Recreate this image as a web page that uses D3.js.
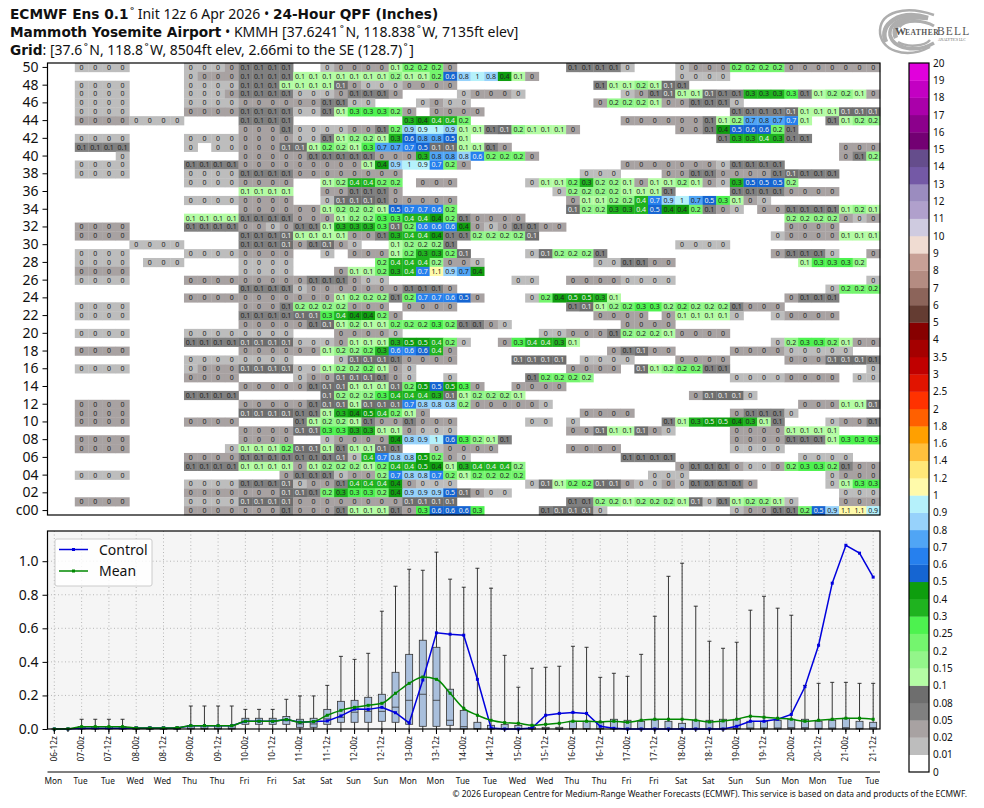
<!DOCTYPE html>
<html>
<head>
<meta charset="utf-8">
<style>
  html, body { margin: 0; padding: 0; background: #fff; }
  svg { display: block; }
  text { font-family: "Noto Sans", sans-serif; fill: #111; }
  .bold { font-family: "DejaVu Sans", sans-serif; font-weight: bold; font-size: 13.7px; }
</style>
<script src="https://cdn.jsdelivr.net/npm/d3@7"></script>
</head>
<body>
<div id="chart"></div>
<script>
// values in hundredths of an inch, each run is [first column, v, v, v, ...]
var r50 = [[2,1,1,1,1],[10,1,1,1,3,6,6,6,6],[20,1,3,3,3,3,12,22,22,22,3],[38,6,6,6,6,1],[46,1,3,3,3,22,22,22,22,3,3,3,3,3,3,3]];
var r49 = [[10,1,3,3,3,6,6,6,6,12,12,12,12,12,12,12,17,12,12,22,57,83,97,83,42,12,3],[46,1,1,1,1]];
var r48 = [[2,1,1,1,1],[10,1,1,1,1,6,6,6,12,12,12,12,9,3,1,1,1,3,3,3,3],[40,6,12,12,17,12,9,6]];
var r47 = [[2,1,1,1,1],[10,1,1,1,3,6,6,6,6,1,1,1,3,6,6,6,3],[30,1,3,3,3,1],[42,1,3,6,9,12,12,9,6,6,33,33,33,27,6,12,17,17,12,3]];
var r46 = [[2,1,1,1,1],[10,1,1,1,1,3,3,3,3,3,3,6,6,1,1],[27,1,3,1,1],[40,3,17,17,17,12,3,3,6,6,6,1]];
var r45 = [[2,1,1,1,1],[10,3,3,3,3,6,6,6,6,1,1,6,12,27,27,27,22,3],[28,3,3,3,3],[50,6,6,6,6,9,12,12,12,9,9,9]];
var r44 = [[2,3,3,3,3,1,1,1,1],[14,6,6,6,6],[26,33,42,38,38,22],[42,3,3,3,3,3,3,6,12,17,73,77,73,67,12],[57,6,12,17,17]];
var r43 = [[14,3,3,3,6,1,1,1,1,3,3,6,22,87,93,97,87,12,12,6,9,17,12,12,12,3],[46,3,3,6,42,54,57,57,22,6]];
var r42 = [[2,1,1,1,1],[10,1,1,1,1,3,3,3,3,1,1,6,12,17,17,12,33,57,77,77,54,12],[49,6,33,33,38,33,6,6]];
var r41 = [[2,6,6,6,6],[10,1],[12,1,1,3,3,3,9,9,12,22,17,12,27,73,73,67,54,9,9,12,12,6,3],[58,3,3,3]];
var r40 = [[5,1],[14,3,3,3,3,3,6,6,6,6,6,3,3,3,33,77,77,83,63,22,22,22,3],[58,3,6,17]];
var r39 = [[2,1,1,1,1],[10,6,6,6,6,3,3,3,3,3,3,3,3,3,12,42,87,97,93,67,22,3],[42,3,3,3,3,3,3,3,1,6,6,6,6]];
var r38 = [[2,1,1,1,1],[10,1,1,1,1,6,6,6,6,3,3,3,3,3,3,3,3],[39,1,1,1],[45,3,3,6,6,3,3,3,3,6,9,6,6,6]];
var r37 = [[10,1,1,1,1,3,3,3,3],[20,12,17,38,38,22,22],[27,3,3,3],[35,1,12,12,22,33,17,17,12,3,12,12,17,12,3,1,33,54,54,54,17]];
var r36 = [[14,12,12,12,12],[20,3,3,6,6,6,3],[37,1,17,17,17,17,12,12,12,6],[50,6,6,6,6,3,3,3,3]];
var r35 = [[10,1,1,1,1,3,3,3,3],[20,1,9,9,9,6,3,3,3,3,3],[38,3,12,12,17,17,38,67,87,97,73,54,27,12,3,1]];
var r34 = [[14,3,3,3,3,3,3,12,17,17,17,12,54,67,67,63,22],[38,9,17,17,33,33,38,54,42,42,22,6,3,1],[52,3,3,6,6,6,6,12,17,12]];
var r33 = [[10,12,12,12,12,6,6,6,6,3,3,3,12,17,17,27,27,38,38,42,22,6,3,3,3,3],[54,17,17,17,17,3,1,3]];
var r32 = [[2,3,3,3,3],[10,6,6,6,6,3,3,1,3,6,6,12,33,33,33,27,9,22,63,63,63,42,3,1,3,6,6,3,3],[54,3,3,3,3]];
var r31 = [[2,3,3,3,3],[14,6,6,6,9,12,12,12,12,3,3,6,33,38,38,42,6,6,17,17,17,17,9],[53,1,3,3,3,3,12,12,12]];
var r30 = [[6,1,1,1,1],[14,6,6,6,9,3,6,9,3,1],[25,12,17,17,17,6],[46,1,1,1,1]];
var r29 = [[2,1,1,1,1],[10,1,1,1,1,3,3,3,3],[20,1],[22,3,3,3,12,22,33,33,22,9],[35,1,9,17,17,17,6],[53,3,6,6,6,1],[60,3]];
var r28 = [[2,1,1,1,1],[7,1,1,1],[14,1,1,1,1],[24,22,38,38,38,17,3,3,1],[40,1,1,6,6,3,3],[55,12,27,27,27,17]];
var r27 = [[2,3,3,3,3],[14,1,1,1,1],[21,3,12,12,22,33,38,67,110,87,73,42]];
var r26 = [[2,1,1,1,1],[10,3,3,3,3,3,3,3,3,3,6,6,6,3,1,1],[34,1,1],[38,3,3,3,3,1,1,1,1],[60,1]];
var r25 = [[14,6,6,6,6,1,3,3,3,3,3,3,3,6,6,6,3],[57,1,22,22,22]];
var r24 = [[10,3,3,3,3,3,3,3,3,3,3,3,12,17,17,17,6,22,67,67,63,54,3],[35,1,22,42,47,47,33,12],[54,3,6,6,6]];
var r23 = [[2,1,1,1,1],[14,3,3,3,6,17,17,17,17,3,3,3],[26,3,3,3,3],[38,6,9,12,17,22,27,27,17,22,17,17,17,6,3,3,3]];
var r22 = [[2,1,1,1,1],[14,6,6,6,6,9,9,27,38,42,42,22,3],[40,3,3,3,3],[45,3,12,12,12,12,1],[53,1,3,3,3,3]];
var r21 = [[14,3,3,3,3,3,6,9,12,17,12,12,22,22,22,27,22,6,6,3,1],[42,3,3,3,3]];
var r20 = [[2,1,1,1,1],[10,1,1,1,1,1,1,1,1],[21,3,3,3,3,1],[36,1,1,3,3,3,6,17,17,17,12,3,3,3,3]];
var r19 = [[10,6,6,6,6,9,9,9,9,1,1,1,3,12,12,12,33,47,47,38,22,1],[33,3,27,38,38,33,12],[53,1,17,27,27,22,12,3,3]];
var r18 = [[2,3,3,3,3],[14,3,3,3,3,3,3,12,17,17,22,33,63,63,57,38,3],[41,3,6,9,3,3],[50,3,3,3,3,1,1,1,1,1]];
var r17 = [[10,1,1,1,1,1,1,1,1],[21,1,9,9,9,6,3,3,3,3],[34,9,9,9,9],[39,1,1,1,1],[46,3,3,3,3],[54,3,3,3,9,9,9,6]];
var r16 = [[2,1,1,1,1],[10,1,3,3,3,9,9,9,9,1,1,12,17,17,22,12,3,1],[38,3,3,3,3],[43,9,12,17,22,22,6,6],[60,1]];
var r15 = [[10,3,3,3,3],[18,1,3,3,9,9,9,6,3,1],[29,1],[35,6,22,22,22,17],[50,1,1,1,1,3,3,3,3],[59,1,1]];
var r14 = [[14,3,3,3,3,3,6,9,9,12,12,12,9,22,47,54,47,27,3],[34,3,3,3,3]];
var r13 = [[10,6,6,6,6],[20,9,17,17,17,27,38,38,38,33,9,12,17,17,17,12],[47,3,9,9,9,1]];
var r12 = [[2,3,3,3,3],[14,3,3,3,3,3,6,9,9,12,9,9,9,67,83,83,83,17,3,3,3,3,3,1],[55,3,3,3,12,12,9]];
var r11 = [[2,3,3,3,3],[14,9,9,9,9,6,6,12,33,42,47,38,22,12,3],[39,3,3,3,3],[50,3,6,6,6,1]];
var r10 = [[2,3,3,3,3],[10,3,3,3,3],[18,6,12,17,17,12,6,3,3,6,3,3,3],[35,1,1],[38,1],[45,6,12,33,47,47,42,33,12,6],[57,1,3,3,6]];
var r09 = [[14,3,3,3,3,9,9,27,27,33,33,12,12,3,1,1,1],[38,3,3,9,12,12,9,3,1],[50,3,3,3,3,12,12,12,12]];
var r08 = [[2,3,3,3,3],[14,3,3,3,3],[20,1,3,3,3,3,42,83,87,97,57,27,17,12,6],[50,3,3,3,3,6,6,6,12,27,27,27]];
var r07 = [[2,3,3,3,3],[13,1,12,12,12,22,9,9,12,6,12,12,9,6],[28,1,3,3,3,3],[38,3,3,3,3],[50,1,1,1,1]];
var r06 = [[10,3,3,3,3,6,6,6,6,6,6,6,9,1,38,67,83,83,47,22,3,1],[42,6,6,6,6],[55,1,1,1,1]];
var r05 = [[10,6,6,6,6,12,12,12,12,3,12,17,17,17,12,22,38,38,47,42,12,33,38,38,38,17],[46,3,6,6,6,3,1,1,3,22,27,27,22,6,3,3]];
var r04 = [[2,1,1,1,1],[17,3,6,6,6,1,3,3,17,67,83,83,67,22,12,22,22,22,22],[44,1,1,1],[57,1,3,3,3]];
var r03 = [[10,1,1,1,1,6,6,6,9,1,3,3,6,38,38,38,42,3,1,1,1],[35,1,9,12,22,22,9,9,3,1,1,3,1,6,6,6,6,3],[57,1,12,27,27]];
var r02 = [[10,3,3,3,3,3,3,3,9,9,6,22,33,27,27,22,42,87,87,87,54,9,3,1,1],[58,1,1,1]];
var r01 = [[2,3,3,3,3],[10,1,1,1,1,9,9,9,9,3,3,3,3,3,3,3,3,9,9,9,9],[38,6,6,17,17,12,17,17,17,12,9,1,6,12,17,17,12,1],[58,3,3,3]];
var r00 = [[10,3,3,3,3,3,3,3,6,3,3,3,6,12,12,12,6,3,27,57,57,57,27],[36,6,9,9,9,1],[50,1,3,3,6,6,22,54,87,110,110,93]];

var memberRows = [r50,r49,r48,r47,r46,r45,r44,r43,r42,r41,r40,r39,r38,r37,r36,r35,r34,r33,r32,r31,r30,r29,r28,r27,r26,r25,r24,r23,r22,r21,r20,r19,r18,r17,r16,r15,r14,r13,r12,r11,r10,r09,r08,r07,r06,r05,r04,r03,r02,r01,r00];
var rowLabels = ['50','48','46','44','42','40','38','36','34','32','30','28','26','24','22','20','18','16','14','12','10','08','06','04','02','c00'];

var stepLabels = ['06-12z','07-00z','07-12z','08-00z','08-12z','09-00z','09-12z','10-00z','10-12z','11-00z','11-12z','12-00z','12-12z','13-00z','13-12z','14-00z','14-12z','15-00z','15-12z','16-00z','16-12z','17-00z','17-12z','18-00z','18-12z','19-00z','19-12z','20-00z','20-12z','21-00z','21-12z'];
var dayLabels = ['Mon','Tue','Tue','Wed','Wed','Thu','Thu','Fri','Fri','Sat','Sat','Sun','Sun','Mon','Mon','Tue','Tue','Wed','Wed','Thu','Thu','Fri','Fri','Sat','Sat','Sun','Sun','Mon','Mon','Tue','Tue'];

var control = [0,0,.005,.005,.005,.005,.006,.006,.006,.006,.02,.02,.02,.02,.046,.046,.046,.056,.04,.044,.048,.078,.119,.117,.129,.097,.036,.292,.573,.565,.559,.296,.006,0,0,.006,.082,.093,.099,.093,.016,.004,0,0,0,0,0,0,0,0,.016,.046,.046,.058,.087,.252,.499,.869,1.095,1.048,.905];
var mean = [0,.001,.014,.014,.014,.014,.006,.006,.006,.008,.02,.02,.02,.02,.046,.046,.046,.056,.04,.044,.082,.111,.129,.141,.153,.213,.272,.31,.296,.213,.123,.082,.052,.038,.034,.022,.028,.034,.046,.046,.042,.046,.04,.052,.058,.058,.058,.052,.042,.048,.058,.076,.07,.064,.058,.046,.052,.058,.064,.064,.058];
var whiskerHigh = [0,.004,.058,.058,.058,.058,.012,.012,.012,.012,.137,.137,.137,.137,.117,.117,.117,.177,.197,.197,.26,.433,.415,.451,.702,.851,.952,.946,1.054,.893,.845,.958,.839,.439,.249,.362,.368,.374,.493,.487,.308,.332,.314,.445,.672,.91,.988,.732,.523,.481,.517,.708,.791,.72,.678,.26,.272,.278,.278,.272,.272];
var boxQ3 = [0,0,.014,.014,.014,.014,.004,.004,.004,.004,.02,.02,.02,.02,.064,.064,.064,.074,.058,.064,.117,.165,.171,.189,.207,.338,.445,.529,.487,.237,.111,.04,.022,.028,.022,.01,.01,.01,.046,.046,.04,.058,.052,.046,.054,.046,.034,.052,.052,.058,.058,.046,.046,.052,.058,.058,.046,.052,.064,.046,.04];
var boxMedian = [0,0,.004,.004,.004,.004,0,0,0,0,.004,.004,.004,.004,.046,.046,.046,.05,.03,.03,.06,.07,.1,.105,.105,.13,.171,.207,.171,.052,.014,.002,0,0,0,0,0,0,.002,.002,.002,.004,.004,.004,.004,.004,.002,.004,.004,.004,.004,.006,.006,.006,.008,.008,.004,.006,.008,.004,.008];
var boxQ1 = [0,0,0,0,0,0,0,0,0,0,0,0,0,0,.028,.028,.028,.028,.01,.01,.028,.04,.04,.04,.046,.04,.028,.016,.016,.022,0,0,0,0,0,0,0,0,0,0,0,0,0,0,0,0,0,0,0,0,0,0,0,0,0,0,0,0,0,0,0];

var cbarTicks = ['0','0.01','0.02','0.05','0.08','0.1','0.15','0.2','0.25','0.3','0.4','0.5','0.6','0.7','0.8','0.9','1','1.2','1.4','1.6','1.8','2','2.5','3','3.5','4','5','6','7','8','9','10','11','12','13','14','15','16','17','18','19','20'];
var cbarColors = ['#ffffff','#bdbdbd','#a8a2a2','#808080','#6e6e6e','#b4fca4','#93f68a','#74f56e','#4df24f','#1fb31f','#0e9e0e','#1565d2','#2680ee','#50a5f5','#97d2fb','#b5f1fb','#fffaaa','#ffe878','#ffc03c','#ffa000','#ff6000','#ff3200','#e11400','#c00000','#a50000','#870000','#643c32','#8c645a','#b48c82','#c8a096','#f0dcd2','#cfcbe0','#b0a0cc','#9b8cbf','#7459a6','#654d8c','#730073','#8c008c','#aa00aa','#c300c3','#e100dc'];

var width = 984, height = 808;
var svg = d3.select('#chart').append('svg').attr('width', width).attr('height', height);

// titles, bold parts are DejaVu, the rest Noto like the original mathtext mix
var titleLines = [
  [['ECMWF Ens 0.1', true], ['\u200a˚ Init 12z 6 Apr 2026 • ', false], ['24-Hour QPF (Inches)', true]],
  [['Mammoth Yosemite Airport', true], [' • KMMH [37.6241\u200a˚\u200aN, 118.838\u200a˚\u200aW, 7135ft elev]', false]],
  [['Grid', true], [': [37.6\u200a˚\u200aN, 118.8\u200a˚\u200aW, 8504ft elev, 2.66mi to the SE (128.7)\u200a˚\u200a]', false]]
];
titleLines.forEach(function(line, i) {
  var t = svg.append('text').attr('x', 10).attr('y', 19 + i * 18).style('font-size', '14px');
  line.forEach(function(part) {
    t.append('tspan').attr('class', part[1] ? 'bold' : null).text(part[0]);
  });
});

// logo
var logo = svg.append('g').attr('fill', 'none').attr('stroke', '#aeaeae').style('filter', 'blur(0.5px)');
logo.append('path').attr('stroke-width', 2.5).attr('d', 'M930,47 C905,60 879,50 880,30 C881,12 905,5 934,15');
logo.append('path').attr('stroke-width', 4.5).attr('d', 'M886,42 C878,24 900,9 928,18 C905,15 890,25 896,38');
logo.append('path').attr('stroke-width', 3.5).attr('d', 'M934,43 C915,54 893,48 890,35 C889,27 895,21 905,19');
logo.append('path').attr('stroke-width', 3).attr('d', 'M899,27 C905,19 924,20 934,26');
logo.append('path').attr('stroke-width', 2.5).attr('d', 'M898,42 C908,48 925,46 930,40');
var logoFont = '"Liberation Serif", serif';
var logoText = svg.append('g');
logoText.append('text').attr('x', 895).attr('y', 34.7).style('font-family', logoFont).style('font-size', '11px').style('font-weight', 'bold').style('fill', '#555').text('W');
logoText.append('text').attr('x', 905).attr('y', 34.7).style('font-family', logoFont).style('font-size', '7.5px').style('font-weight', 'bold').style('fill', '#555').style('letter-spacing', '0.5px').text('EATHER');
logoText.append('text').attr('x', 937).attr('y', 34.7).style('font-family', logoFont).style('font-size', '11.5px').style('fill', '#555').style('letter-spacing', '1.2px').text('BELL');
logoText.append('text').attr('x', 938).attr('y', 40.5).style('font-family', logoFont).style('font-size', '3.6px').style('fill', '#666').text('ANALYTICS LLC');

// heatmap of members against forecast step
var plotLeft = 47.5, plotRight = 880;
var columns = d3.range(61);
var x = d3.scaleBand().domain(columns).range([plotLeft, plotRight]);
var rowNames = d3.range(50, -1, -1);
var y = d3.scaleBand().domain(rowNames).range([63, 515]);
var color = d3.scaleThreshold()
  .domain(cbarTicks.slice(1, -1).map(Number))
  .range(cbarColors);

function cellLabel(v) {
  return String(+v.toFixed(1));
}
function cellText(v) {
  if ((v >= 0.08 && v < 0.1) || (v >= 0.35 && v < 0.4) || (v >= 0.45 && v < 0.7)) return '#f0f0f0';
  return '#222';
}

var cells = [];
memberRows.forEach(function(runs, i) {
  runs.forEach(function(run) {
    run.slice(1).forEach(function(h, j) {
      cells.push({ row: rowNames[i], col: run[0] + j, value: h / 100 });
    });
  });
});

svg.append('g').selectAll('rect').data(cells).enter().append('rect')
  .attr('x', function(d) { return x(d.col); })
  .attr('y', function(d) { return y(d.row); })
  .attr('width', x.bandwidth() + 0.3)
  .attr('height', y.bandwidth() + 0.3)
  .attr('fill', function(d) { return color(d.value); });

svg.append('g').selectAll('text').data(cells).enter().append('text')
  .attr('x', function(d) { return x(d.col) + x.bandwidth() / 2; })
  .attr('y', function(d) { return y(d.row) + y.bandwidth() / 2; })
  .attr('text-anchor', 'middle').attr('dy', '0.35em')
  .style('font-size', '7px')
  .style('fill', function(d) { return cellText(d.value); })
  .text(function(d) { return cellLabel(d.value); });

svg.append('rect').attr('x', plotLeft).attr('y', 63).attr('width', plotRight - plotLeft).attr('height', 452)
  .attr('fill', 'none').attr('stroke', '#000').attr('stroke-width', 1.2);

var rowAxis = d3.axisLeft(y)
  .tickValues(rowNames.filter(function(r) { return r % 2 === 0; }))
  .tickSize(5).tickPadding(4)
  .tickFormat(function(r, i) { return rowLabels[i]; });
var rowAxisG = svg.append('g').attr('transform', 'translate(' + plotLeft + ',0)').call(rowAxis);
rowAxisG.select('.domain').remove();
rowAxisG.selectAll('text').style('font-size', '14px').style('font-family', '"Noto Sans", sans-serif');

// lower panel, box plots with control and mean
var panelTop = 531, panelBottom = 729;
var yv = d3.scaleLinear().domain([0, 1.18]).range([panelBottom, panelTop]);
var center = function(c) { return x(c) + x.bandwidth() / 2; };

svg.append('rect').attr('x', plotLeft).attr('y', panelTop).attr('width', plotRight - plotLeft).attr('height', panelBottom - panelTop).attr('fill', '#f5f5f5');

var majorCols = columns.filter(function(c) { return c % 2 === 0; });
svg.append('g').selectAll('line').data(majorCols).enter().append('line')
  .attr('x1', center).attr('x2', center).attr('y1', panelTop).attr('y2', panelBottom)
  .attr('stroke', '#b0b0b0').attr('stroke-width', 0.9).attr('stroke-dasharray', '1,2.5');
svg.append('g').selectAll('line').data([0.2, 0.4, 0.6, 0.8, 1]).enter().append('line')
  .attr('x1', plotLeft).attr('x2', plotRight).attr('y1', yv).attr('y2', yv)
  .attr('stroke', '#b0b0b0').attr('stroke-width', 0.9).attr('stroke-dasharray', '1,2.5');

var boxes = svg.append('g').selectAll('g').data(columns).enter().append('g');
boxes.append('line')
  .attr('x1', center).attr('x2', center)
  .attr('y1', function(c) { return yv(whiskerHigh[c]); }).attr('y2', yv(0))
  .attr('stroke', '#222').attr('stroke-width', 0.9);
boxes.append('line')
  .attr('x1', function(c) { return center(c) - 2; }).attr('x2', function(c) { return center(c) + 2; })
  .attr('y1', function(c) { return yv(whiskerHigh[c]); }).attr('y2', function(c) { return yv(whiskerHigh[c]); })
  .attr('stroke', '#222').attr('stroke-width', 0.9);
boxes.append('rect')
  .attr('x', function(c) { return center(c) - 3.5; }).attr('width', 7)
  .attr('y', function(c) { return yv(boxQ3[c]); })
  .attr('height', function(c) { return yv(boxQ1[c]) - yv(boxQ3[c]); })
  .attr('fill', '#a9bfdc').attr('stroke', '#333').attr('stroke-width', 0.8);
boxes.append('line')
  .attr('x1', function(c) { return center(c) - 3.5; }).attr('x2', function(c) { return center(c) + 3.5; })
  .attr('y1', function(c) { return yv(boxMedian[c]); }).attr('y2', function(c) { return yv(boxMedian[c]); })
  .attr('stroke', '#333').attr('stroke-width', 0.8);

function drawSeries(values, stroke, curve) {
  var seriesLine = d3.line()
    .x(function(d, i) { return center(i); })
    .y(function(d) { return yv(d); })
    .curve(curve);
  var g = svg.append('g');
  g.append('path').attr('d', seriesLine(values)).attr('fill', 'none').attr('stroke', stroke).attr('stroke-width', 1.5);
  g.selectAll('rect').data(values).enter().append('rect')
    .attr('x', function(d, i) { return center(i) - 1.5; })
    .attr('y', function(d) { return yv(d) - 1.5; })
    .attr('width', 3).attr('height', 3).attr('fill', stroke);
}
drawSeries(control, '#0000dd', d3.curveLinear);
drawSeries(mean, '#008800', d3.curveMonotoneX);

svg.append('rect').attr('x', plotLeft).attr('y', panelTop).attr('width', plotRight - plotLeft).attr('height', panelBottom - panelTop)
  .attr('fill', 'none').attr('stroke', '#000').attr('stroke-width', 1.2);

var valueAxis = d3.axisLeft(yv).tickValues([0, 0.2, 0.4, 0.6, 0.8, 1]).tickSize(5).tickPadding(4).tickFormat(d3.format('.1f'));
var valueAxisG = svg.append('g').attr('transform', 'translate(' + plotLeft + ',0)').call(valueAxis);
valueAxisG.select('.domain').remove();
valueAxisG.selectAll('text').style('font-size', '14px').style('font-family', '"Noto Sans", sans-serif');

var stepAxis = d3.axisBottom(x).tickValues(columns).tickSize(3).tickFormat('');
var stepAxisG = svg.append('g').attr('transform', 'translate(0,' + panelBottom + ')').call(stepAxis);
stepAxisG.select('.domain').remove();
svg.append('g').selectAll('line').data(majorCols).enter().append('line')
  .attr('x1', center).attr('x2', center).attr('y1', panelBottom).attr('y2', panelBottom + 5)
  .attr('stroke', '#000');

svg.append('g').selectAll('text').data(stepLabels).enter().append('text')
  .attr('transform', function(d, i) { return 'translate(' + (center(majorCols[i]) - 0.5) + ',736) rotate(-90)'; })
  .attr('text-anchor', 'end').attr('dy', '0.35em')
  .style('font-size', '8.3px')
  .text(function(d) { return d; });

svg.append('line').attr('x1', plotLeft).attr('x2', plotRight).attr('y1', 772).attr('y2', 772).attr('stroke', '#000').attr('stroke-width', 1);
svg.append('g').selectAll('text').data(dayLabels).enter().append('text')
  .attr('x', function(d, i) { return center(majorCols[i]) - 1; })
  .attr('y', 784).attr('text-anchor', 'middle')
  .style('font-size', '8.3px')
  .text(function(d) { return d; });

svg.append('text').attr('x', 967).attr('y', 797).attr('text-anchor', 'end').style('font-size', '8.4px')
  .text('© 2026 European Centre for Medium-Range Weather Forecasts (ECMWF). This service is based on data and products of the ECMWF.');

// legend
var legendEntries = [['Control', '#0000dd', 549.5], ['Mean', '#008800', 571]];
var legend = svg.append('g');
legend.append('rect').attr('x', 55).attr('y', 539).attr('width', 97).attr('height', 47).attr('rx', 2)
  .attr('fill', '#fff').attr('fill-opacity', 0.85).attr('stroke', '#ccc');
legendEntries.forEach(function(e) {
  legend.append('line').attr('x1', 59).attr('x2', 88).attr('y1', e[2]).attr('y2', e[2]).attr('stroke', e[1]).attr('stroke-width', 1.5);
  legend.append('rect').attr('x', 72).attr('y', e[2] - 1.5).attr('width', 3).attr('height', 3).attr('fill', e[1]);
  legend.append('text').attr('x', 99).attr('y', e[2] + 5).style('font-size', '14px').text(e[0]);
});

// colorbar
var cbarY = d3.scalePoint().domain(cbarTicks).range([772, 63]);
var cbar = svg.append('g');
cbar.selectAll('rect').data(cbarColors).enter().append('rect')
  .attr('x', 909).attr('width', 20)
  .attr('y', function(d, i) { return cbarY(cbarTicks[i + 1]); })
  .attr('height', function(d, i) { return cbarY(cbarTicks[i]) - cbarY(cbarTicks[i + 1]) + 0.3; })
  .attr('fill', function(d) { return d; });
cbar.append('rect').attr('x', 909).attr('y', 63).attr('width', 20).attr('height', 709)
  .attr('fill', 'none').attr('stroke', '#000').attr('stroke-width', 1.2);
var cbarAxis = d3.axisRight(cbarY).tickSize(0).tickPadding(4);
var cbarAxisG = svg.append('g').attr('transform', 'translate(929,0)').call(cbarAxis);
cbarAxisG.select('.domain').remove();
cbarAxisG.selectAll('text').style('font-size', '10px').style('font-family', '"Noto Sans", sans-serif');
</script>
</body>
</html>
